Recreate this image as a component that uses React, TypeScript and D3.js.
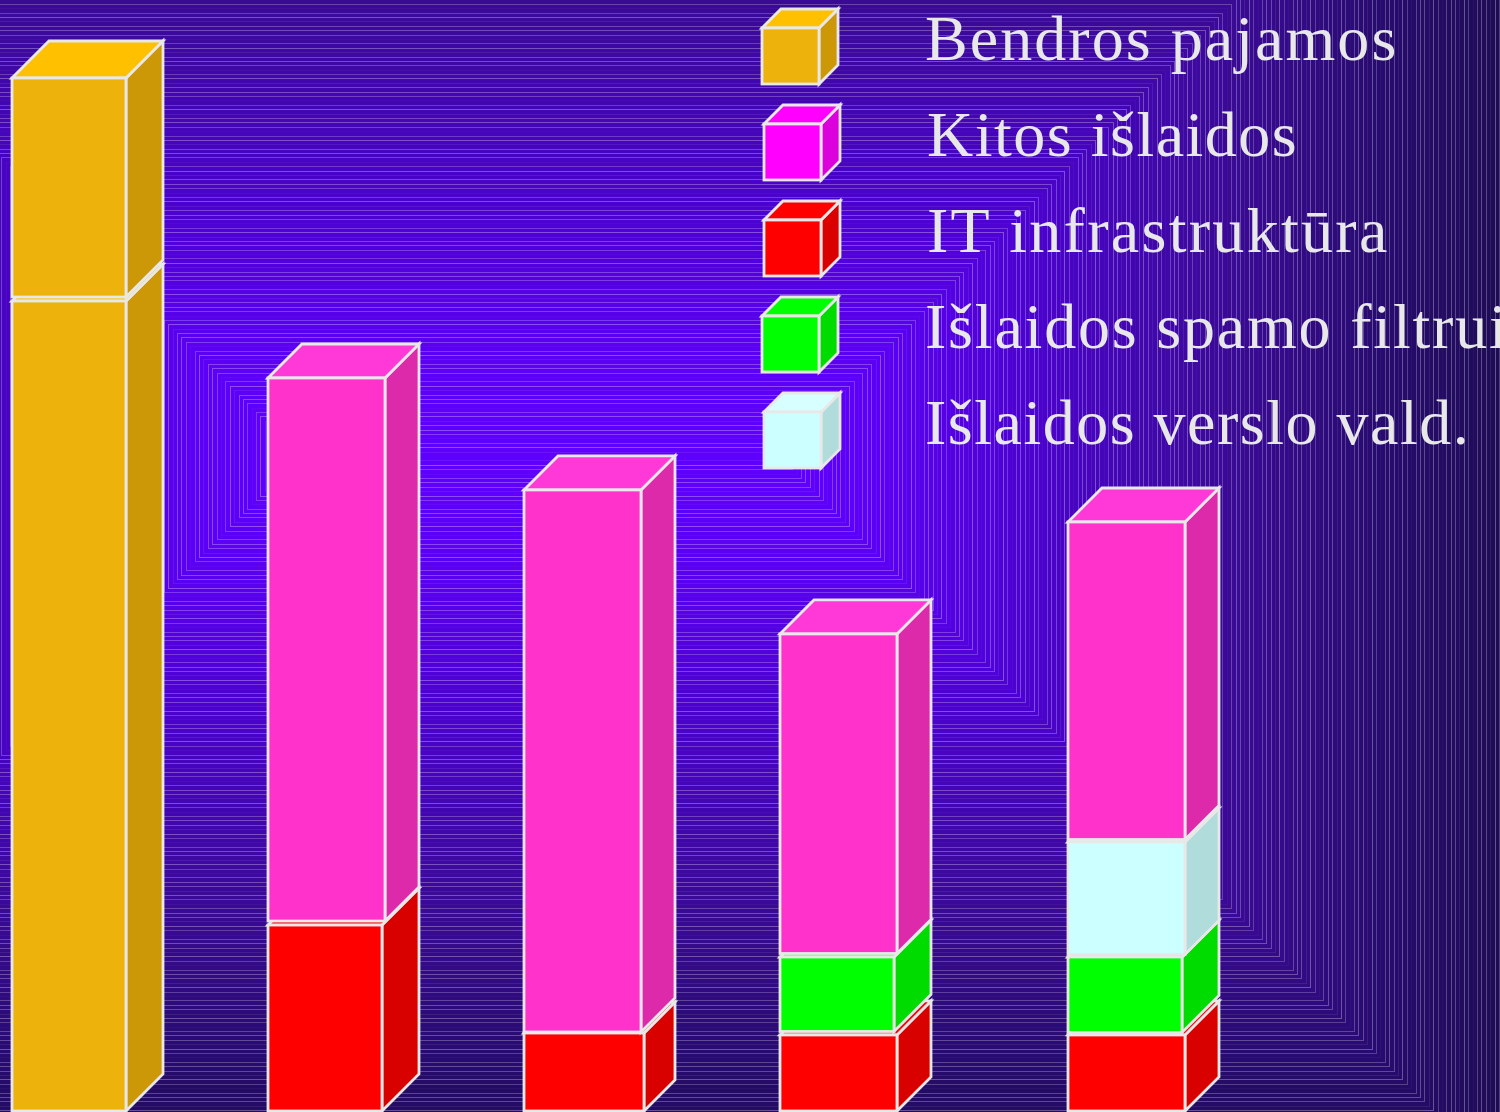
import * as d3 from 'd3'

const WIDTH = 1500
const HEIGHT = 1112

// chart values (no axis in the source, 100 = tallest bar)
const categoryPositions = [0, 1, 2, 3, 4.125]
const revenueBase = [78.41, 0, 0, 0, 0]
const itInfrastructure = [0, 18, 7.55, 7.36, 7.36]
const spamFilter = [0, 0, 0, 7.55, 7.55]
const businessMgmt = [0, 0, 0, 0, 11.13]
const otherCosts = [0, 52.96, 52.57, 31.27, 30.98]
const revenueTop = [21.59, 0, 0, 0, 0]

const legendLabels = [
  'Bendros pajamos',
  'Kitos išlaidos',
  'IT infrastruktūra',
  'Išlaidos spamo filtrui',
  'Išlaidos verslo vald.',
]

// the source draws each box with a slightly different depth
const itDepths = [0, 37, 31, 34, 34]
const stackGaps = [4, 4, 1, 3.5, 2.5]

const BOX = {total: 151, depth: 34}
const STROKE = '#e8e8e8'

type Face = {front: string; top: string; side: string}

const ORANGE: Face = {front: '#eeb20c', top: '#ffc000', side: '#cc9808'}
const PINK: Face = {front: '#ff33cc', top: '#ff38d8', side: '#dc2aaa'}
const MAGENTA: Face = {front: '#ff00ff', top: '#ff00ff', side: '#dc00dc'}
const RED: Face = {front: '#ff0000', top: '#ff0000', side: '#d90000'}
const GREEN: Face = {front: '#00ff00', top: '#00ff00', side: '#00dc00'}
const CYAN: Face = {front: '#ccffff', top: '#d8ffff', side: '#b0dcdc'}

const SERIES: Record<string, {values: number[]; face: Face; depth: (i: number) => number}> = {
  revenueBase: {values: revenueBase, face: ORANGE, depth: () => 37},
  it: {values: itInfrastructure, face: RED, depth: i => itDepths[i]},
  spam: {values: spamFilter, face: GREEN, depth: () => 37},
  business: {values: businessMgmt, face: CYAN, depth: () => 34},
  other: {values: otherCosts, face: PINK, depth: () => 34},
  revenueTop: {values: revenueTop, face: ORANGE, depth: () => 37},
}
const seriesKeys = Object.keys(SERIES)

const rows = categoryPositions.map((_, i) => {
  const row: Record<string, number> = {}
  seriesKeys.forEach(k => (row[k] = SERIES[k].values[i]))
  return row
})
const stacked = d3.stack<Record<string, number>>().keys(seriesKeys)(rows)

const xScale = d3.scaleLinear().domain([0, 1]).range([12, 268])
const yScale = d3.scaleLinear().domain([0, 100]).range([1111, 78])

const legendY = d3.scalePoint<number>().domain(d3.range(5)).range([84, 468])
const legendBoxX = [762, 764, 764, 762, 764]
const legendTextX = [925, 927, 927, 925, 925]
const legendSpacing = [2.05, 1.5, 2.3, 1.8, 1.5]
const legendFaces = [ORANGE, MAGENTA, RED, GREEN, CYAN]

const polygon = d3.line()

const Box = ({x, total, depth, yTop, yBottom, face}: {
  x: number
  total: number
  depth: number
  yTop: number
  yBottom: number
  face: Face
}) => {
  const xFront = x + total - depth
  const xBack = x + total
  const common = {stroke: STROKE, strokeWidth: 2.8, strokeLinejoin: 'miter' as const}
  return (
    <g>
      <path
        d={polygon([[xFront, yTop], [xBack, yTop - depth], [xBack, yBottom - depth], [xFront, yBottom]]) + 'Z'}
        fill={face.side}
        {...common}
      />
      <path
        d={polygon([[x, yTop], [x + depth, yTop - depth], [xBack, yTop - depth], [xFront, yTop]]) + 'Z'}
        fill={face.top}
        {...common}
      />
      <rect x={x} y={yTop} width={xFront - x} height={yBottom - yTop} fill={face.front} {...common} />
    </g>
  )
}

// concentric backdrop: every rectangle grows the same distance from a flat core
const CORE = {x0: 300, x1: 779, y: 456}
const bandColor = d3
  .scaleLinear<string>()
  .domain([0, 100, 250, 450, 600, 725])
  .range(['#5f00ff', '#5c00f5', '#4c02cf', '#3a0a96', '#280b70', '#1e0c55'])
const LINE_STEP = 4.39
const lineAlpha = [0.26, 0.08, 0.3, 0.22, 0.03, 0.24, 0.28]

const Backdrop = () => {
  const count = Math.ceil(725 / LINE_STEP)
  const steps = d3.range(count, -1, -1)
  return (
    <g shapeRendering="crispEdges">
      {steps.map(k => {
        const d = Math.round(k * LINE_STEP)
        return (
          <rect
            key={k}
            x={CORE.x0 - d + 0.5}
            y={CORE.y - d + 0.5}
            width={CORE.x1 - CORE.x0 + 2 * d}
            height={2 * d}
            fill={bandColor(d)}
            stroke="#ffffff"
            strokeOpacity={lineAlpha[k % lineAlpha.length]}
          />
        )
      })}
    </g>
  )
}

export default function App() {
  return (
    <svg
      width={WIDTH}
      height={HEIGHT}
      style={{position: 'absolute', left: 0, top: 0, display: 'block', background: '#1e0c55'}}>
      <Backdrop />

      {stacked.map(layer =>
        layer.map((d, i) => {
          if (d[1] === d[0]) return null
          const s = SERIES[layer.key]
          const yBottom = d[0] === 0 ? yScale(0) : yScale(d[0]) - stackGaps[i]
          return (
            <Box
              key={layer.key + i}
              x={xScale(categoryPositions[i])}
              total={BOX.total}
              depth={s.depth(i)}
              yTop={yScale(d[1])}
              yBottom={yBottom}
              face={s.face}
            />
          )
        }),
      )}

      {legendLabels.map((label, i) => {
        const bottom = legendY(i) as number
        return (
          <g key={label}>
            <Box x={legendBoxX[i]} total={76} depth={19} yTop={bottom - 56} yBottom={bottom} face={legendFaces[i]} />
            <text
              x={legendTextX[i]}
              y={bottom - 24}
              fontFamily="'Liberation Serif', serif"
              fontSize={64}
              letterSpacing={legendSpacing[i]}
              fill={STROKE}>
              {label}
            </text>
          </g>
        )
      })}
    </svg>
  )
}
